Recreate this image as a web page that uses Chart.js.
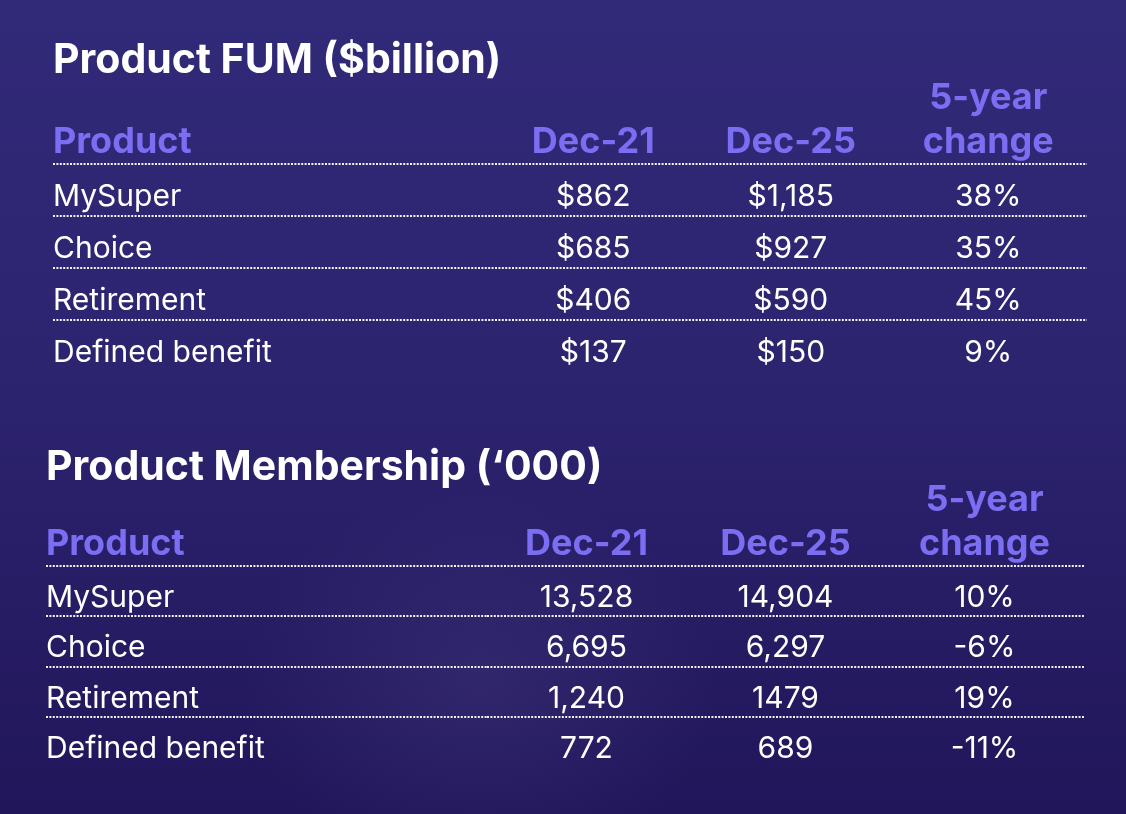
<!DOCTYPE html>
<html>
<head>
<meta charset="utf-8">
<script src="https://cdn.jsdelivr.net/npm/chart.js@4.4.1/dist/chart.umd.min.js"></script>
<style>
  html, body { margin: 0; padding: 0; }
  body {
    width: 1126px; height: 814px; overflow: hidden;
    background:
      radial-gradient(ellipse 320px 260px at 480px 680px, rgba(72, 62, 132, 0.35), rgba(0, 0, 0, 0) 75%),
      linear-gradient(180deg, #312a78 0%, #2d2470 45%, #21165a 100%);
  }
  .box { position: relative; width: 1126px; height: 407px; }
</style>
</head>
<body>
<div class="box"><canvas id="fum"></canvas></div>
<div class="box"><canvas id="members"></canvas></div>
<script>
// column headers, row labels and cell values, as printed
const headers = ['Dec-21', 'Dec-25', '5-year change'];
const products = ['MySuper', 'Choice', 'Retirement', 'Defined benefit'];

const fumDec21 = ['$862', '$685', '$406', '$137'];
const fumDec25 = ['$1,185', '$927', '$590', '$150'];
const fumChange = ['38%', '35%', '45%', '9%'];

const memDec21 = ['13,528', '6,695', '1,240', '772'];
const memDec25 = ['14,904', '6,297', '1479', '689'];
const memChange = ['10%', '-6%', '19%', '-11%'];

const FONT = 'Inter, "Noto Sans", sans-serif';
const LAVENDER = '#7b6ef2';
const TITLE_SIZE = 41;
const HEAD_SIZE = 36, HEAD_LH = 1.22;
const CELL_SIZE = 30;
const DROP = 7; // nudge text so caps sit where the reference puts them

// draws the cell strings at each (invisible) point, plus the "Product" corner header
const cellText = {
  id: 'cellText',
  afterDatasetsDraw(chart) {
    const ctx = chart.ctx;
    ctx.save();
    ctx.fillStyle = '#ffffff';
    ctx.font = `400 ${CELL_SIZE}px ${FONT}`;
    ctx.textAlign = 'center';
    ctx.textBaseline = 'middle';
    chart.data.datasets.forEach((ds, di) => {
      chart.getDatasetMeta(di).data.forEach((pt, i) => {
        ctx.fillText(ds.cells[i], pt.x, pt.y + DROP);
      });
    });
    const xs = chart.scales.x, ys = chart.scales.y;
    ctx.fillStyle = LAVENDER;
    ctx.font = `700 ${HEAD_SIZE}px ${FONT}`;
    ctx.textAlign = 'left';
    ctx.fillText('Product', ys.left, xs.bottom - xs.options.ticks.padding - HEAD_SIZE * HEAD_LH / 2);
    ctx.restore();
  }
};

function makeTable(id, title, cols, lay) {
  const datasets = cols.map((cells, c) => ({
    cells: cells,
    data: products.map(p => ({ x: headers[c], y: p })),
    pointRadius: 0,
    pointHoverRadius: 0
  }));
  return new Chart(document.getElementById(id), {
    type: 'scatter',
    data: { datasets },
    plugins: [cellText],
    options: {
      responsive: true,
      maintainAspectRatio: false,
      animation: false,
      events: [],
      layout: { padding: { left: lay.left, right: lay.right, top: 44, bottom: lay.bottom } },
      plugins: {
        legend: { display: false },
        tooltip: { enabled: false },
        title: {
          display: true,
          text: title,
          align: 'start',
          color: '#ffffff',
          font: { family: FONT, size: TITLE_SIZE, weight: '700', lineHeight: 0.8 },
          padding: { top: 0, bottom: 0 }
        }
      },
      scales: {
        x: {
          type: 'category',
          labels: headers,
          position: 'top',
          offset: true,
          afterFit: s => { s.height = lay.headHeight; },
          grid: { display: false, drawTicks: false },
          border: { display: false },
          ticks: {
            padding: 0,
            color: LAVENDER,
            font: { family: FONT, size: HEAD_SIZE, weight: '700', lineHeight: HEAD_LH },
            callback: function (v) { return this.getLabelForValue(v).split(' '); },
            maxRotation: 0,
            autoSkip: false
          }
        },
        y: {
          type: 'category',
          labels: products,
          position: 'left',
          offset: true,
          afterFit: s => { s.width = lay.labelWidth; },
          grid: {
            offset: true,
            drawTicks: true,
            tickLength: lay.labelWidth,
            lineWidth: 2,
            color: c => (c.index === undefined ? 'rgba(0,0,0,0)' : 'rgba(255,255,255,0.95)'),
            tickBorderDash: [2, 1.4]
          },
          border: { display: false, dash: [2, 1.4] },
          ticks: {
            crossAlign: 'far',
            padding: 0,
            labelOffset: DROP,
            color: '#ffffff',
            font: { family: FONT, size: CELL_SIZE, weight: '400' },
            autoSkip: false
          }
        }
      }
    }
  });
}

makeTable('fum', 'Product FUM ($billion)', [fumDec21, fumDec25, fumChange],
  { left: 53, right: 39, bottom: 35, headHeight: 87.2, labelWidth: 441.5 });
makeTable('members', 'Product Membership (\u2018000)', [memDec21, memDec25, memChange],
  { left: 46, right: 42, bottom: 47, headHeight: 82.2, labelWidth: 441 });
</script>
</body>
</html>
